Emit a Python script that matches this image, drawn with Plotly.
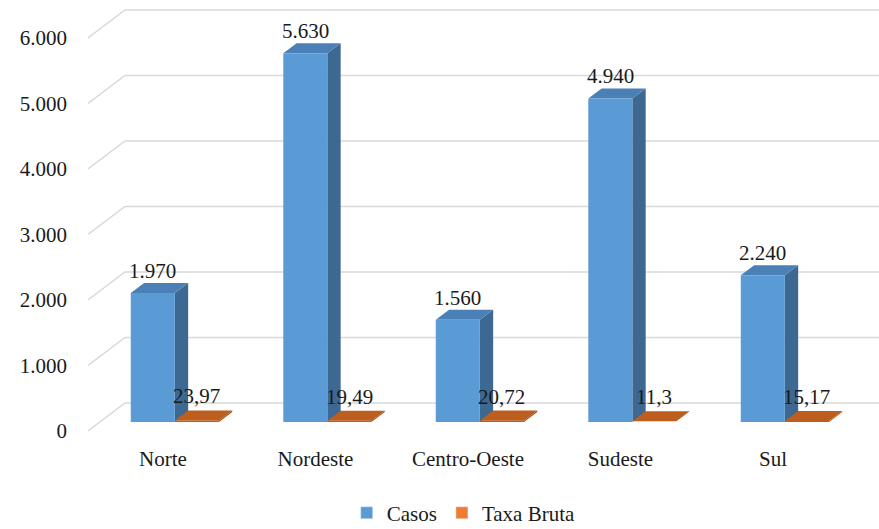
import plotly.graph_objects as go

categories = ["Norte", "Nordeste", "Centro-Oeste", "Sudeste", "Sul"]
casos = [1970, 5630, 1560, 4940, 2240]
taxa_bruta = [23.97, 19.49, 20.72, 11.3, 15.17]
casos_labels = ["1.970", "5.630", "1.560", "4.940", "2.240"]
taxa_labels = ["23,97", "19,49", "20,72", "11,3", "15,17"]
y_ticks = [0, 1000, 2000, 3000, 4000, 5000, 6000]
y_ticktext = ["0", "1.000", "2.000", "3.000", "4.000", "5.000", "6.000"]

# pseudo-3D projection parameters (in data units)
DX = 0.2426      # full floor depth, x units
DV = 427.5       # full floor depth, value units
D0, D1 = 0.32, 0.68  # bar depth span
BW = 0.289       # bar width (x units)
X_LEFT, X_RIGHT = -0.4918, 4.695
Y_LOW, Y_HIGH = -137.4, 6580.2

BLUE_FRONT, BLUE_TOP, BLUE_SIDE = "#5B9BD5", "#4A80B6", "#3D6891"
ORANGE_FRONT, ORANGE_TOP, ORANGE_SIDE = "#C55A11", "#BD5E1F", "#A04A10"
GRID = "#D9D9D9"
FONT = "Liberation Serif"
TXT = "#1a1a1a"


def P(x, v, d):
    return x + d * DX, v + d * DV


fig = go.Figure()

# gridlines: slanted on the left wall, then horizontal on the back wall
gx, gy = [], []
for t in y_ticks:
    x0, y0 = P(X_LEFT, t, 0)
    x1, y1 = P(X_LEFT, t, 1)
    gx += [x0, x1, X_RIGHT, None]
    gy += [y0, y1, y1, None]
fig.add_trace(go.Scatter(x=gx, y=gy, mode="lines", line=dict(color=GRID, width=1.5),
                         hoverinfo="skip", showlegend=False))


def poly(pts, color):
    fig.add_trace(go.Scatter(x=[p[0] for p in pts] + [pts[0][0]], y=[p[1] for p in pts] + [pts[0][1]],
                             fill="toself", fillcolor=color, mode="lines", line=dict(width=0, color=color),
                             hoverinfo="skip", showlegend=False))


def add_box(xl, value, front, top, side):
    xr = xl + BW
    poly([P(xr, 0, D0), P(xr, 0, D1), P(xr, value, D1), P(xr, value, D0)], side)
    poly([P(xl, value, D0), P(xr, value, D0), P(xr, value, D1), P(xl, value, D1)], top)
    poly([P(xl, 0, D0), P(xr, 0, D0), P(xr, value, D0), P(xl, value, D0)], front)


for i in range(len(categories)):
    add_box(i - BW, casos[i], BLUE_FRONT, BLUE_TOP, BLUE_SIDE)
    add_box(i, taxa_bruta[i], ORANGE_FRONT, ORANGE_TOP, ORANGE_SIDE)

# legend entries
fig.add_trace(go.Bar(x=[None], y=[None], marker=dict(color=BLUE_FRONT), name="Casos", showlegend=True))
fig.add_trace(go.Bar(x=[None], y=[None], marker=dict(color="#ED7D31"), name="Taxa Bruta", showlegend=True))

# data labels
for i in range(len(categories)):
    xb, yb = P(i - BW / 2, casos[i], D0)
    fig.add_annotation(x=xb, y=yb, text=casos_labels[i], showarrow=False, yshift=22,
                       font=dict(family=FONT, size=21, color=TXT))
    xo, yo = P(i + BW / 2, taxa_bruta[i], D0)
    fig.add_annotation(x=xo, y=yo, text=taxa_labels[i], showarrow=False, yshift=24,
                       font=dict(family=FONT, size=21, color=TXT))

fig.update_layout(
    width=879, height=529,
    margin=dict(l=88, r=0, t=0, b=89),
    paper_bgcolor="white", plot_bgcolor="white",
    font=dict(family=FONT, size=21, color=TXT),
    showlegend=True,
    legend=dict(orientation="h", x=0.475, xanchor="center", yref="container", y=0.03, yanchor="middle",
                font=dict(family=FONT, size=21, color=TXT), itemwidth=30, traceorder="normal"),
    xaxis=dict(range=[X_LEFT, X_RIGHT], tickvals=list(range(len(categories))), ticktext=categories,
               showgrid=False, zeroline=False, showline=False, ticks="", ticklabelstandoff=4,
               tickfont=dict(family=FONT, size=21, color=TXT)),
    yaxis=dict(range=[Y_LOW, Y_HIGH], tickvals=y_ticks, ticktext=y_ticktext,
               showgrid=False, zeroline=False, showline=False, ticks="", ticklabelstandoff=20,
               tickfont=dict(family=FONT, size=21, color=TXT)),
)

fig.write_html("out.html")
